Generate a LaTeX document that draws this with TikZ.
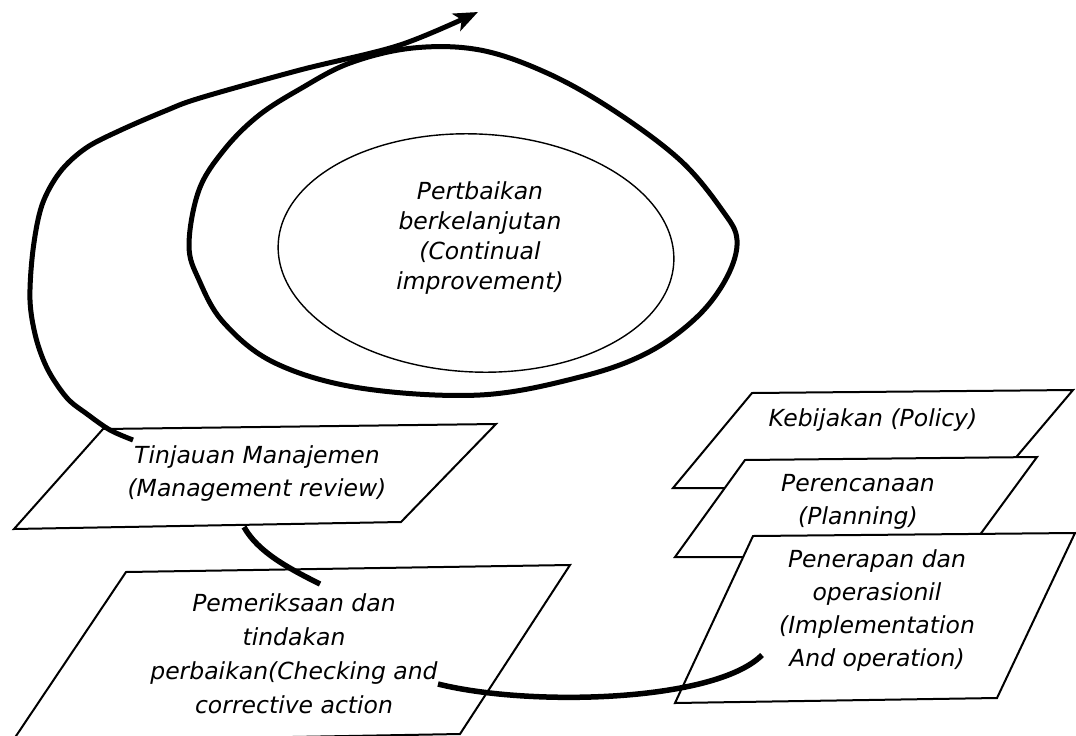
\documentclass[tikz,border=0pt]{standalone}
\usepackage{fontspec}
\setmainfont{DejaVu Sans}
\usetikzlibrary{arrows.meta}
\begin{document}
\begin{tikzpicture}[x=1pt,y=-1pt,
  box/.style={draw=black, line width=2pt, fill=white, line join=miter},
  lbl/.style={font=\fontsize{23.5}{33}\selectfont\itshape, align=center, inner sep=0pt},
  thickloop/.style={draw=black, line width=5pt},
  link/.style={draw=black, line width=5.5pt, line cap=butt}]
\useasboundingbox (0,0) rectangle (1076,736);
\begin{scope}
\clip (0,0) rectangle (1076,736);
% inner ellipse
\draw[line width=1.4pt, rotate around={-2.6:(476,253)}] (476,253) ellipse [x radius=198pt, y radius=119pt];
\node[lbl, font=\fontsize{23.5}{30}\selectfont\itshape] (ci) at (480,238) {Pertbaikan\\berkelanjutan\\(Continual\\improvement)};
% outer closed loop
\draw[thickloop] plot[smooth cycle, tension=0.6] coordinates {(413,48) (480,50) (547,73) (613,110) (680,160) (722,210) (737,240) (727,277) (697,317) (647,353) (580,377) (480,395) (360,388) (275,363) (224,323) (199,280) (189,245) (199,190) (224,150) (258,116) (300,89) (350,63)};
% boxes
\filldraw[box] (103,429) -- (496,424) -- (401,522) -- (14,529) -- cycle;
\node[lbl] (tm) at (257,474) {Tinjauan Manajemen\\(Management review)};
\filldraw[box] (126,572) -- (570,565) -- (460,734) -- (12,742) -- cycle;
\node[lbl, font=\fontsize{23.5}{34}\selectfont\itshape] (pm) at (294,654) {Pemeriksaan dan\\tindakan\\perbaikan(Checking and\\corrective action};
\filldraw[box] (752,393) -- (1073,390) -- (1018,455) -- (990,488) -- (673,488) -- cycle;
\node[lbl] (kb) at (873,420) {Kebijakan (Policy)};
\filldraw[box] (745,460) -- (1037,457) -- (982,532) -- (962,557) -- (675,557) -- cycle;
\node[lbl] (pr) at (858,502) {Perencanaan\\(Planning)};
\filldraw[box] (753,536) -- (1075,533) -- (997,698) -- (675,703) -- cycle;
\node[lbl] (pn) at (877,611) {Penerapan dan\\operasionil\\(Implementation\\And operation)};
% spiral with arrow
\coordinate (sp0) at (133,440);
\coordinate (sp1) at (478,12);
\draw[thickloop, -{Stealth[length=24pt,width=19pt,inset=6pt]}] plot[smooth, tension=0.55] coordinates {(sp0) (110,430) (87,414) (67,398) (48,370) (36,338) (30,300) (33,250) (42,205) (60,172) (86,148) (121,130) (165,111) (200,98) (300,70) (400,45) (sp1)};
% connectors
\coordinate (tA) at (244,527);
\coordinate (pA) at (320,584);
\draw[link] (tA) .. controls (258,552) and (288,568) .. (pA);
\coordinate (pB) at (438,684);
\coordinate (qB) at (762,655);
\draw[link] (pB) .. controls (530,707) and (715,702) .. (qB);
\end{scope}
\end{tikzpicture}
\end{document}
